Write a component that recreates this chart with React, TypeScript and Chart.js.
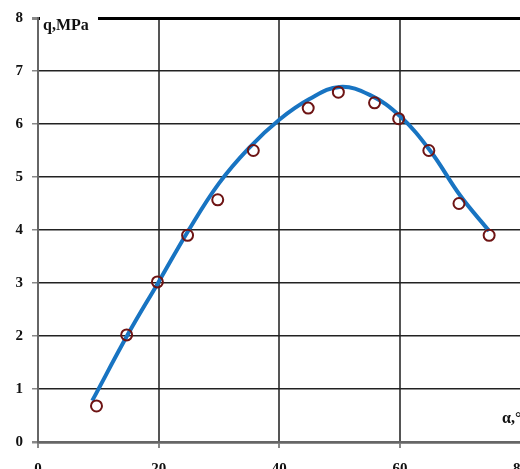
import React, { useEffect, useRef } from "react";
import { Chart, registerables } from "chart.js";

Chart.register(...registerables);

// Measured points (alpha in degrees, q in MPa)
const ALPHA_POINTS = [9.7, 14.7, 19.8, 24.8, 29.8, 35.7, 44.8, 49.8, 55.8, 59.8, 64.8, 69.8, 74.8];
const Q_POINTS = [0.68, 2.02, 3.02, 3.9, 4.57, 5.5, 6.3, 6.6, 6.4, 6.1, 5.5, 4.5, 3.9];

// Fitted curve
const CURVE_ALPHA = [9, 15, 20, 25, 30, 35, 40, 45, 50, 55, 60, 65, 70, 74.8];
const CURVE_Q = [0.78, 2.05, 3.02, 4.0, 4.88, 5.55, 6.08, 6.47, 6.7, 6.55, 6.15, 5.5, 4.65, 3.98];

const X_TICKS = [0, 20, 40, 60, 80];
const Y_TICKS = [0, 1, 2, 3, 4, 5, 6, 7, 8];
const Y_LABEL = "q,MPa";
const X_LABEL = "α,°";

const FONT = "'Liberation Serif', 'Times New Roman', serif";

export default function App() {
  const ref = useRef<HTMLCanvasElement>(null);

  useEffect(() => {
    if (!ref.current) return;
    const labelPlugin = {
      id: "axisLabels",
      afterDraw(chart: any) {
        const { ctx, chartArea } = chart;
        ctx.save();
        ctx.fillStyle = "#ffffff";
        ctx.fillRect(chartArea.left + 2, chartArea.top - 5, 58, 20);
        ctx.fillStyle = "#111111";
        ctx.font = `bold 16px ${FONT}`;
        ctx.textAlign = "left";
        ctx.textBaseline = "alphabetic";
        ctx.fillText(Y_LABEL, chartArea.left + 5, chartArea.top + 12);
        ctx.fillText(X_LABEL, 502, 423);
        ctx.restore();
      },
    };

    const chart = new Chart(ref.current, {
      type: "scatter",
      data: {
        datasets: [
          {
            label: "points",
            data: ALPHA_POINTS.map((x, i) => ({ x, y: Q_POINTS[i] })),
            showLine: false,
            pointRadius: 5.5,
            pointBorderWidth: 2,
            pointBorderColor: "#6E1414",
            pointBackgroundColor: "rgba(255,255,255,0)",
            order: 0,
          },
          {
            label: "curve",
            data: CURVE_ALPHA.map((x, i) => ({ x, y: CURVE_Q[i] })),
            showLine: true,
            borderColor: "#1874C2",
            borderWidth: 4,
            pointRadius: 0,
            tension: 0.4,
            order: 1,
          },
        ],
      },
      options: {
        responsive: false,
        animation: false,
        layout: { padding: { top: 15, right: 18, left: 0, bottom: 0 } },
        plugins: {
          legend: { display: false },
          tooltip: { enabled: false },
        },
        scales: {
          x: {
            type: "linear",
            min: 0,
            max: 80,
            afterBuildTicks: (s: any) => {
              s.ticks = X_TICKS.map((v) => ({ value: v }));
            },
            afterFit: (s: any) => {
              s.height = 48;
            },
            ticks: {
              font: { family: FONT, size: 15, weight: "bold" },
              color: "#111111",
              padding: 12,
              maxRotation: 0,
            },
            grid: {
              color: "#555555",
              lineWidth: 2,
              tickLength: 6,
              tickColor: "#888888",
            },
            border: { display: true, color: "#666666", width: 2.5 },
          },
          y: {
            min: 0,
            max: 8,
            afterBuildTicks: (s: any) => {
              s.ticks = Y_TICKS.map((v) => ({ value: v }));
            },
            afterFit: (s: any) => {
              s.width = 38;
            },
            ticks: {
              font: { family: FONT, size: 15, weight: "bold" },
              color: "#111111",
              padding: 9,
            },
            grid: {
              color: (c: any) => (c.tick && c.tick.value === 8 ? "#000000" : c.tick && c.tick.value === 0 ? "#666666" : "#222222"),
              lineWidth: (c: any) => (c.tick && c.tick.value === 8 ? 3 : c.tick && c.tick.value === 0 ? 2.5 : 1.5),
              tickLength: 6,
              tickColor: "#888888",
            },
            border: { display: true, color: "#666666", width: 2 },
          },
        },
      },
      plugins: [labelPlugin],
    } as any);
    return () => chart.destroy();
  }, []);

  return (
    <div
      style={{
        position: "fixed",
        left: 0,
        top: 0,
        width: 520,
        height: 469,
        overflow: "hidden",
        background: "#ffffff",
      }}
    >
      <canvas ref={ref} width={540} height={490} style={{ width: 540, height: 490, display: "block" }} />
    </div>
  );
}
